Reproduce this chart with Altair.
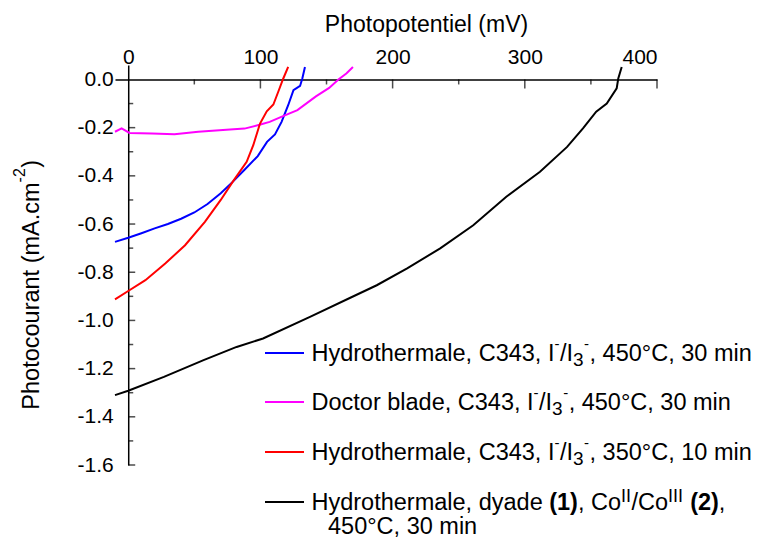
import altair as alt
import pandas as pd

# ---------------- data ----------------
blue_x = [-10, 0, 10, 20, 30, 40, 50, 60, 70, 79, 88, 98, 105, 111, 116, 121, 125, 130, 131.7, 133.7]
blue_y = [-0.674, -0.657, -0.638, -0.618, -0.600, -0.578, -0.552, -0.517, -0.472, -0.425, -0.375,
          -0.318, -0.259, -0.228, -0.176, -0.107, -0.044, -0.027, 0.004, 0.052]

magenta_x = [-10, -5, 1, 18, 35, 53, 77, 88, 100, 107, 118, 128, 142, 152, 159, 165, 170]
magenta_y = [-0.217, -0.203, -0.222, -0.224, -0.227, -0.217, -0.208, -0.204, -0.187, -0.176,
             -0.150, -0.127, -0.070, -0.035, 0.0, 0.025, 0.052]

red_x = [-10, 0, 13, 28, 43, 58, 70, 79, 89.6, 94.6, 99.7, 104.8, 109.8, 113.5, 117.3, 121]
red_y = [-0.913, -0.878, -0.833, -0.764, -0.688, -0.591, -0.500, -0.425, -0.342, -0.273,
         -0.183, -0.132, -0.104, -0.051, 0.004, 0.052]

black_x = [-10, 0, 27, 57, 82, 102, 137.5, 168, 188, 211, 236, 261, 286, 311.5, 332, 344,
           354, 362, 369.5, 370.7, 373.3]
black_y = [-1.310, -1.292, -1.234, -1.165, -1.110, -1.075, -0.985, -0.906, -0.854, -0.784,
           -0.701, -0.605, -0.487, -0.383, -0.280, -0.203, -0.134, -0.100, -0.037, 0.004, 0.052]

series_keys = ["blue", "magenta", "red", "black"]
series_colors = ["#0000ff", "#ff00ff", "#ff0000", "#000000"]

# legend texts, in pieces: (text, kind) with kind n=normal, b=bold, sup, sub
legend_rows = [
    [("Hydrothermale, C343, I", "n"), ("-", "sup"), ("/I", "n"), ("3", "sub"), ("-", "sup"),
     (", 450°C, 30 min", "n")],
    [("Doctor blade, C343, I", "n"), ("-", "sup"), ("/I", "n"), ("3", "sub"), ("-", "sup"),
     (", 450°C, 30 min", "n")],
    [("Hydrothermale, C343, I", "n"), ("-", "sup"), ("/I", "n"), ("3", "sub"), ("-", "sup"),
     (", 350°C, 10 min", "n")],
    [("Hydrothermale, dyade ", "n"), ("(1)", "b"), (", Co", "n"), ("II", "supr"), ("/Co", "n"),
     ("III", "supr"), (" ", "n"), ("(2)", "b"), (",", "n")],
]
legend4_line2 = "450°C, 30 min"

x_major = [0, 100, 200, 300, 400]
x_minor = [50, 150, 250, 350]
y_major = [0.0, -0.2, -0.4, -0.6, -0.8, -1.0, -1.2, -1.4, -1.6]
y_minor = [-0.1, -0.3, -0.5, -0.7, -0.9, -1.1, -1.3, -1.5]

x_title = "Photopotentiel (mV)"
y_title_parts = [("Photocourant (mA.cm", "t"), ("-2", "tsup"), (")", "t")]

# ---------------- build tables ----------------
rows = []
for key, xs, ys in [("blue", blue_x, blue_y), ("magenta", magenta_x, magenta_y),
                    ("red", red_x, red_y), ("black", black_x, black_y)]:
    for k, (a, b) in enumerate(zip(xs, ys)):
        rows.append({"v": a, "i": b, "s": key, "o": k})
df = pd.DataFrame(rows)

W, H = 542, 400
XMIN, XMAX = -10, 400
YMIN, YMAX = -1.6, 0.06
x_scale = alt.Scale(domain=[XMIN, XMAX], nice=False, zero=False)
y_scale = alt.Scale(domain=[YMIN, YMAX], nice=False, zero=False)
x_axis_off = -(YMAX - 0) / (YMAX - YMIN) * H
y_axis_off = -(0 - XMIN) / (XMAX - XMIN) * W

FONT = "Liberation Sans"
FS_LEG = 23.5
KIND_STYLE = {  # font size, weight, shift (px, negative = raised)
    "n": (FS_LEG, "normal", 0),
    "b": (FS_LEG, "bold", 0),
    "sup": (15, "normal", -12),
    "supr": (18, "normal", -8),
    "sub": (19, "normal", 5),
    "t": (23.5, "normal", 0),
    "tsup": (16, "normal", -14),
}
# Arial / Liberation Sans advance widths (1/1000 em)
ADV = {" ": 278, ",": 278, ".": 278, "/": 278, "(": 333, ")": 333, "-": 333, "°": 400,
       "A": 667, "B": 667, "C": 722, "D": 722, "H": 722, "I": 278, "P": 667, "V": 667,
       "a": 556, "b": 556, "c": 500, "d": 556, "e": 556, "h": 556, "i": 222, "k": 500,
       "l": 222, "m": 833, "n": 556, "o": 556, "p": 556, "r": 333, "t": 278, "u": 556,
       "y": 500}

def text_width(s, size):
    return sum(ADV.get(ch, 556) for ch in s) * size / 1000.0

lines = alt.Chart(df).mark_line(strokeWidth=2, clip=False).encode(
    x=alt.X("v:Q", scale=x_scale, axis=alt.Axis(
        orient="top", values=x_major, format="d", offset=x_axis_off,
        ticks=False, tickSize=0, labelPadding=12, grid=False,
        title=x_title, titleX=311, titleY=-48, titleBaseline="alphabetic",
        titleAlign="center", titleAnchor="middle")),
    y=alt.Y("i:Q", scale=y_scale, axis=alt.Axis(
        orient="left", values=y_major, offset=y_axis_off,
        labelExpr="replace(format(datum.value, '.1f'), '\u2212', '-')",
        ticks=False, tickSize=0, labelPadding=15, grid=False, title="")),
    color=alt.Color("s:N", scale=alt.Scale(domain=series_keys, range=series_colors), legend=None),
    order="o:Q",
)

def xticks(vals, size):
    return alt.Chart(pd.DataFrame({"v": vals})).mark_tick(
        orient="vertical", size=size, thickness=1.5, color="black", yOffset=size / 2
    ).encode(x=alt.X("v:Q", scale=x_scale, axis=None),
             y=alt.YDatum(0, scale=y_scale, axis=None))

def yticks(vals, size):
    return alt.Chart(pd.DataFrame({"i": vals})).mark_tick(
        orient="horizontal", size=size, thickness=1.5, color="black", xOffset=size / 2
    ).encode(y=alt.Y("i:Q", scale=y_scale, axis=None),
             x=alt.XDatum(0, scale=x_scale, axis=None))

layers = [lines, xticks(x_major[1:], 9), xticks(x_minor, 5), yticks(y_major[1:], 7), yticks(y_minor, 5)]

one = pd.DataFrame({"a": [0]})

# ---------------- y-axis title (rotated, with real superscript) ----------------
YT_BASE_X = -76.5      # baseline position, relative to plot left
YT_CENTER_Y = 220
total = sum(text_width(t, KIND_STYLE[k][0]) for t, k in y_title_parts)
ypos = YT_CENTER_Y + total / 2
for txt, kind in y_title_parts:
    size, weight, shift = KIND_STYLE[kind]
    layers.append(alt.Chart(one).mark_text(
        align="left", baseline="alphabetic", font=FONT, fontSize=size, angle=270,
        color="black").encode(
        x=alt.value(YT_BASE_X + shift), y=alt.value(ypos), text=alt.value(txt)))
    ypos -= text_width(txt, size) + (0.5 if kind == "tsup" else 0)

# ---------------- custom legend ----------------
row_line_y = [288, 337, 387, 437]
row_text_y = [296, 345, 395, 445]
LEG_X0 = 196.5
for k in range(4):
    layers.append(alt.Chart(one).mark_rule(color=series_colors[k], strokeWidth=2).encode(
        x=alt.value(150), x2=alt.value(189), y=alt.value(row_line_y[k])))
    xpos = LEG_X0
    for txt, kind in legend_rows[k]:
        size, weight, shift = KIND_STYLE[kind]
        layers.append(alt.Chart(one).mark_text(
            align="left", baseline="alphabetic", font=FONT, fontSize=size,
            fontWeight=weight, color="black").encode(
            x=alt.value(xpos), y=alt.value(row_text_y[k] + shift), text=alt.value(txt)))
        xpos += text_width(txt, size) + (0.5 if kind in ("sup", "supr", "sub") else 0)
layers.append(alt.Chart(one).mark_text(
    align="left", baseline="alphabetic", font=FONT, fontSize=FS_LEG, color="black").encode(
    x=alt.value(213), y=alt.value(469), text=alt.value(legend4_line2)))

chart = alt.layer(*layers).resolve_axis(x="independent", y="independent").properties(
    width=W, height=H,
    autosize=alt.AutoSizeParams(type="none"),
    padding={"left": 107, "top": 57, "right": 96, "bottom": 75},
).configure_view(strokeWidth=0).configure_axis(
    labelFont=FONT, labelFontSize=21, labelColor="black",
    titleFont=FONT, titleFontSize=23, titleColor="black", titleFontWeight="normal",
    domainColor="black", domainWidth=1.5,
)

chart.save("out.html", embed_options={"renderer": "svg", "actions": False})
